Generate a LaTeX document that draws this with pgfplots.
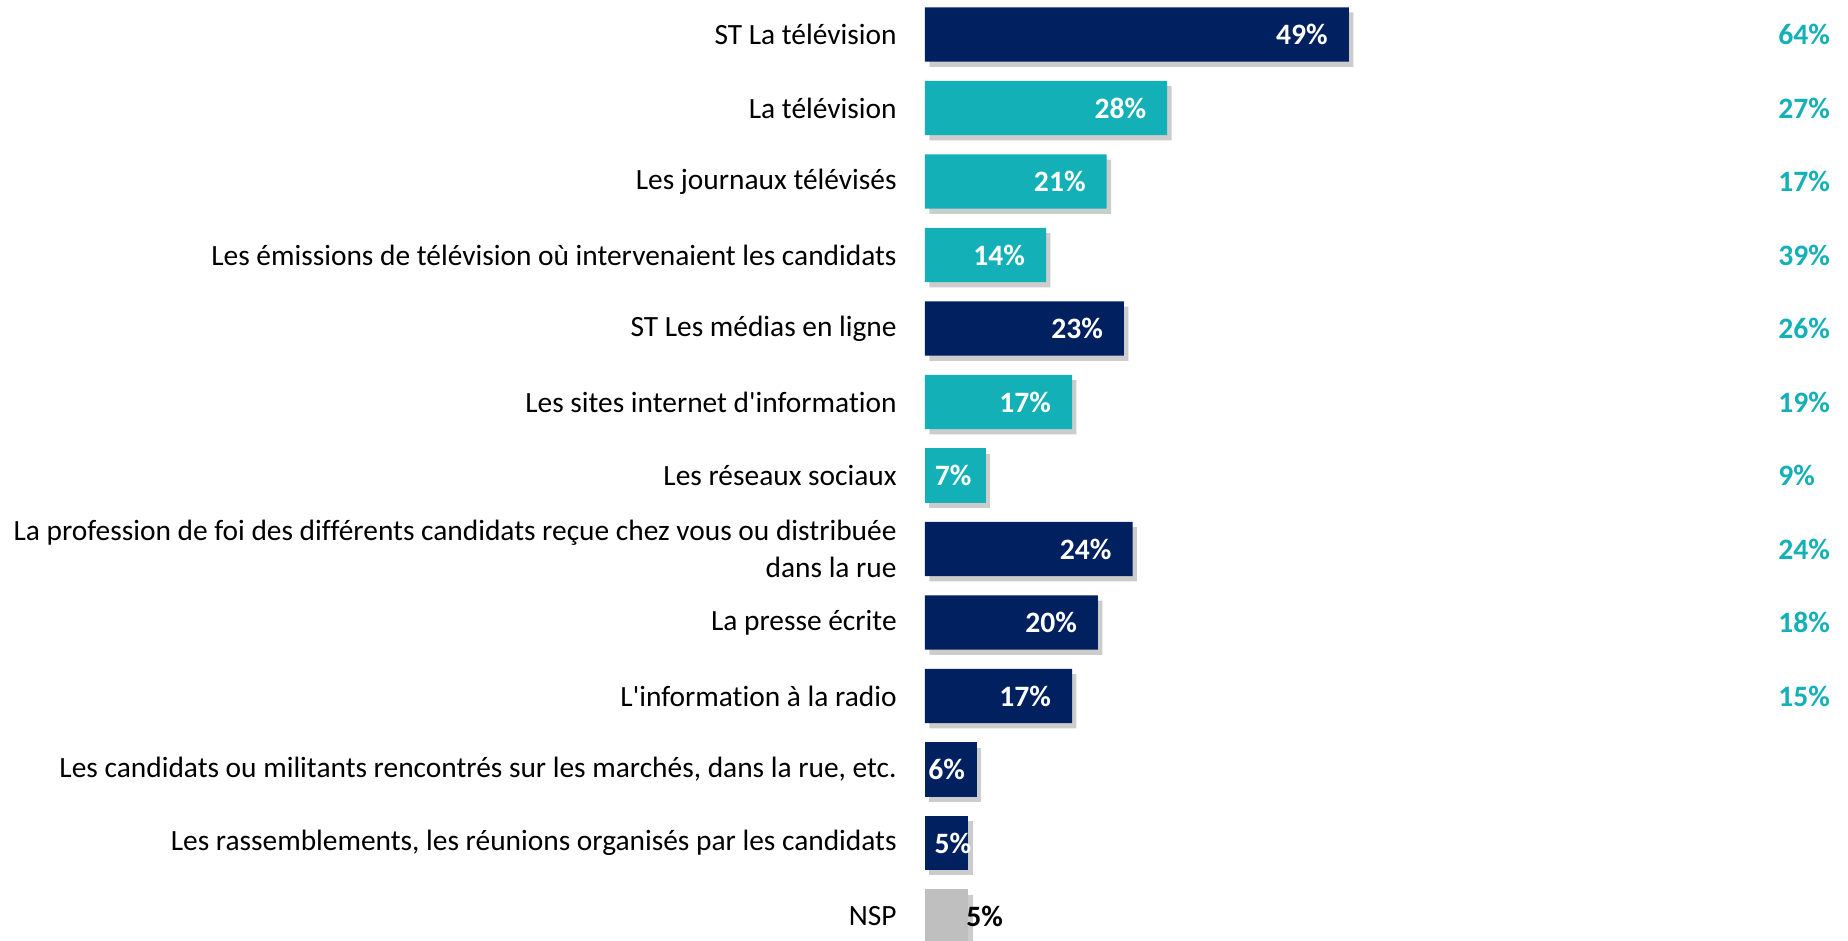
\documentclass[border=0pt]{standalone}
\usepackage{fontspec}
\setmainfont{Carlito}[Ligatures={TeXOff,CommonOff}]
\usepackage{pgfplots}
\pgfplotsset{compat=1.18}
\definecolor{navy}{HTML}{002060}
\definecolor{tealc}{HTML}{14B0B7}
\definecolor{nspgray}{HTML}{BFBFBF}
\begin{document}
\begin{tikzpicture}[font=\fontsize{14.7}{18.4}\selectfont]
\path[use as bounding box] (0,0) rectangle (924pt,-470.5pt);
\begin{axis}[
  at={(462.5pt,-470.5pt)}, anchor=south west,
  scale only axis, width=432.5pt, height=470.5pt,
  xmin=0, xmax=100, ymin=-0.333, ymax=12.4694,
  axis line style={draw=none}, tick style={draw=none},
  xtick=\empty,
  ytick={0,...,12},
  yticklabels={NSP,
    {Les rassemblements, les réunions organisés par les candidats},
    {Les candidats ou militants rencontrés sur les marchés, dans la rue, etc.},
    {L'information à la radio},
    {La presse écrite},
    {La profession de foi des différents candidats reçue chez vous ou distribuée\\dans la rue},
    {Les réseaux sociaux},
    {Les sites internet d'information},
    {ST Les médias en ligne},
    {Les émissions de télévision où intervenaient les candidats},
    {Les journaux télévisés},
    {La télévision},
    {ST La télévision}},
  yticklabel style={align=right, inner sep=0pt, xshift=-14pt, text=black, font=\fontsize{14.7}{18.4}\selectfont},
  clip=false,
  point meta=explicit symbolic,
  bar width=27.2pt,
  shadowed/.style={preaction={fill=black, opacity=0.2, transform canvas={xshift=2.2pt, yshift=-2.6pt}}},
  barlab/.style={every node near coord/.append style={anchor=east, xshift=#1, text=white, font=\fontsize{14.8}{16}\selectfont}},
]
% navy bars
\addplot[xbar, bar shift=0pt, draw=none, fill=navy, shadowed,
  nodes near coords={\bfseries\pgfplotspointmeta\%}, barlab=-7pt]
  coordinates {(49,12) [49] (23,8) [23] (24,5) [24] (20,4) [20] (17,3) [17]};
\addplot[xbar, bar shift=0pt, draw=none, fill=navy, shadowed,
  nodes near coords={\bfseries\pgfplotspointmeta\%}, barlab=-2.5pt]
  coordinates {(6,2) [6]};
\addplot[xbar, bar shift=0pt, draw=none, fill=navy, shadowed,
  nodes near coords={\bfseries\pgfplotspointmeta\%}, barlab=5pt]
  coordinates {(5,1) [5]};
% teal bars
\addplot[xbar, bar shift=0pt, draw=none, fill=tealc, shadowed,
  nodes near coords={\bfseries\pgfplotspointmeta\%}, barlab=-7pt]
  coordinates {(28,11) [28] (21,10) [21] (14,9) [14] (17,7) [17]};
\addplot[xbar, bar shift=0pt, draw=none, fill=tealc, shadowed,
  nodes near coords={\bfseries\pgfplotspointmeta\%}, barlab=-3.5pt]
  coordinates {(7,6) [7]};
% NSP
\addplot[xbar, bar shift=0pt, draw=none, fill=nspgray, shadowed,
  nodes near coords={\bfseries\pgfplotspointmeta\%},
  every node near coord/.append style={anchor=west, xshift=-4.5pt, text=black, font=\fontsize{14.8}{16}\selectfont}]
  coordinates {(5,0) [5]};
% right column
\addplot[sharp plot, draw=none, mark=none,
  nodes near coords={\bfseries\pgfplotspointmeta\%},
  every node near coord/.append style={anchor=west, inner sep=0pt, text=tealc, font=\fontsize{14.8}{16}\selectfont}]
  coordinates {(98.6,12) [64] (98.6,11) [27] (98.6,10) [17] (98.6,9) [39] (98.6,8) [26]
               (98.6,7) [19] (98.6,6) [9] (98.6,5) [24] (98.6,4) [18] (98.6,3) [15]};
\end{axis}
\end{tikzpicture}
\end{document}
